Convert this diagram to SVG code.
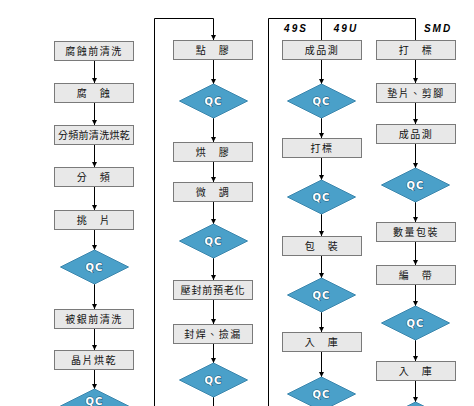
<svg xmlns="http://www.w3.org/2000/svg" width="474" height="406" viewBox="0 0 474 406">
<style>
.bx rect{fill:#e8e8e8;stroke:#7a7a7a;stroke-width:1}
.bx text{font-family:"Noto Sans CJK TC","Noto Sans CJK SC",sans-serif;font-size:10px;fill:#111;text-anchor:middle;letter-spacing:1.5px}
.qc polygon{fill:#4aa0c9;stroke:#3a86ad;stroke-width:1}
.qc text{font-family:"DejaVu Sans","Liberation Sans",sans-serif;font-weight:bold;font-size:10px;fill:#fff;stroke:#1f5f80;stroke-width:1.2px;paint-order:stroke;text-anchor:middle;letter-spacing:1px}
.ln{stroke:#000;stroke-width:1;fill:none}
.ar{stroke:#000;stroke-width:1;fill:none;marker-end:url(#ah)}
.hd{font-family:"Liberation Sans",Arial,sans-serif;font-weight:bold;font-style:italic;font-size:10px;fill:#000;text-anchor:middle;letter-spacing:2px}
</style>
<defs>
<marker id="ah" markerWidth="6" markerHeight="6" refX="5" refY="3" orient="auto" markerUnits="userSpaceOnUse">
<path d="M0,0.5 L5,3 L0,5.5 Z" fill="#000"/>
</marker>
</defs>
<rect width="474" height="406" fill="#fff"/>
<g id="connectors">
<path class="ln" d="M154.5,406 V18.5 H213.5"/>
<path class="ar" d="M213.5,18.5 V40"/>
<path class="ln" d="M268.5,406 V18.5 H415.5 V40"/>
<path class="ln" d="M321.5,18.5 V40"/>
<path class="ar" d="M94.5,61 V83"/>
<path class="ar" d="M94.5,103 V125"/>
<path class="ar" d="M94.5,145 V167"/>
<path class="ar" d="M94.5,187 V210"/>
<path class="ar" d="M94.5,230 V250"/>
<path class="ar" d="M94.5,284 V309"/>
<path class="ar" d="M94.5,329 V350"/>
<path class="ar" d="M94.5,370 V389"/>
<path class="ar" d="M213.5,60 V84"/>
<path class="ar" d="M213.5,118 V142"/>
<path class="ar" d="M213.5,162 V182"/>
<path class="ar" d="M213.5,202 V224"/>
<path class="ar" d="M213.5,258 V280"/>
<path class="ar" d="M213.5,300 V324"/>
<path class="ar" d="M213.5,344 V363"/>
<path class="ln" d="M213.5,397 V406"/>
<path class="ar" d="M321.5,60 V84"/>
<path class="ar" d="M321.5,118 V138"/>
<path class="ar" d="M321.5,158 V180"/>
<path class="ar" d="M321.5,214 V236"/>
<path class="ar" d="M321.5,256 V278"/>
<path class="ar" d="M321.5,312 V332"/>
<path class="ar" d="M321.5,352 V377"/>
<path class="ar" d="M415.5,60 V83"/>
<path class="ar" d="M415.5,103 V124"/>
<path class="ar" d="M415.5,144 V168"/>
<path class="ar" d="M415.5,202 V222"/>
<path class="ar" d="M415.5,242 V265"/>
<path class="ar" d="M415.5,285 V306"/>
<path class="ar" d="M415.5,340 V361"/>
<path class="ar" d="M415.5,381 V402"/>
</g>
<g id="headers">
<text class="hd" x="296" y="32">49S</text>
<text class="hd" x="346" y="32">49U</text>
<text class="hd" x="438" y="32">SMD</text>
</g>
<g id="c1n1" class="bx"><rect x="54.5" y="41.5" width="79" height="19"/><text x="94" y="55">腐蝕前清洗</text></g>
<g id="c1n2" class="bx"><rect x="54.5" y="83.5" width="79" height="19"/><text x="94" y="97">腐　蝕</text></g>
<g id="c1n3" class="bx"><rect x="54.5" y="125.5" width="79" height="19"/><text x="94" y="139" style="letter-spacing:0.3px">分頻前清洗烘乾</text></g>
<g id="c1n4" class="bx"><rect x="54.5" y="167.5" width="79" height="19"/><text x="94" y="181">分　頻</text></g>
<g id="c1n5" class="bx"><rect x="54.5" y="210.5" width="79" height="19"/><text x="94" y="224">挑　片</text></g>
<g id="c1qc1" class="qc"><polygon points="94.5,250 128.5,267 94.5,284 60.5,267"/><text x="94.5" y="271">QC</text></g>
<g id="c1n6" class="bx"><rect x="54.5" y="309.5" width="79" height="19"/><text x="94" y="323">被銀前清洗</text></g>
<g id="c1n7" class="bx"><rect x="54.5" y="350.5" width="79" height="19"/><text x="94" y="364">晶片烘乾</text></g>
<g id="c1qc2" class="qc"><polygon points="94.5,389 128.5,406 94.5,423 60.5,406"/><text x="94.5" y="405">QC</text></g>
<g id="c2n1" class="bx"><rect x="173.5" y="40.5" width="79" height="19"/><text x="213" y="54">點　膠</text></g>
<g id="c2qc1" class="qc"><polygon points="213.5,84 247.5,101 213.5,118 179.5,101"/><text x="213.5" y="105">QC</text></g>
<g id="c2n2" class="bx"><rect x="173.5" y="142.5" width="79" height="19"/><text x="213" y="156">烘　膠</text></g>
<g id="c2n3" class="bx"><rect x="173.5" y="182.5" width="79" height="19"/><text x="213" y="196">微　調</text></g>
<g id="c2qc2" class="qc"><polygon points="213.5,224 247.5,241 213.5,258 179.5,241"/><text x="213.5" y="245">QC</text></g>
<g id="c2n4" class="bx"><rect x="173.5" y="280.5" width="79" height="19"/><text x="213" y="294" style="letter-spacing:0.8px">壓封前預老化</text></g>
<g id="c2n5" class="bx"><rect x="173.5" y="324.5" width="79" height="19"/><text x="213" y="338">封焊、撿漏</text></g>
<g id="c2qc3" class="qc"><polygon points="213.5,363 247.5,380 213.5,397 179.5,380"/><text x="213.5" y="384">QC</text></g>
<g id="c3n1" class="bx"><rect x="282.5" y="40.5" width="79" height="19"/><text x="322" y="54">成品測</text></g>
<g id="c3qc1" class="qc"><polygon points="321.5,84 355.5,101 321.5,118 287.5,101"/><text x="321.5" y="105">QC</text></g>
<g id="c3n2" class="bx"><rect x="282.5" y="138.5" width="79" height="19"/><text x="322" y="152">打標</text></g>
<g id="c3qc2" class="qc"><polygon points="321.5,180 355.5,197 321.5,214 287.5,197"/><text x="321.5" y="201">QC</text></g>
<g id="c3n3" class="bx"><rect x="282.5" y="236.5" width="79" height="19"/><text x="322" y="250">包　裝</text></g>
<g id="c3qc3" class="qc"><polygon points="321.5,278 355.5,295 321.5,312 287.5,295"/><text x="321.5" y="299">QC</text></g>
<g id="c3n4" class="bx"><rect x="282.5" y="332.5" width="79" height="19"/><text x="322" y="346">入　庫</text></g>
<g id="c3qc4" class="qc"><polygon points="321.5,377 355.5,394 321.5,411 287.5,394"/><text x="321.5" y="398">QC</text></g>
<g id="c4n1" class="bx"><rect x="376.5" y="40.5" width="79" height="19"/><text x="416" y="54">打　標</text></g>
<g id="c4n2" class="bx"><rect x="376.5" y="83.5" width="79" height="19"/><text x="416" y="97">墊片、剪腳</text></g>
<g id="c4n3" class="bx"><rect x="376.5" y="124.5" width="79" height="19"/><text x="416" y="138">成品測</text></g>
<g id="c4qc1" class="qc"><polygon points="415.5,168 449.5,185 415.5,202 381.5,185"/><text x="415.5" y="189">QC</text></g>
<g id="c4n4" class="bx"><rect x="376.5" y="222.5" width="79" height="19"/><text x="416" y="236">數量包裝</text></g>
<g id="c4n5" class="bx"><rect x="376.5" y="265.5" width="79" height="19"/><text x="416" y="279">編　帶</text></g>
<g id="c4qc2" class="qc"><polygon points="415.5,306 449.5,323 415.5,340 381.5,323"/><text x="415.5" y="327">QC</text></g>
<g id="c4n6" class="bx"><rect x="376.5" y="361.5" width="79" height="19"/><text x="416" y="375">入　庫</text></g>
<g id="c4qc3" class="qc"><polygon points="415.5,402 449.5,419 415.5,436 381.5,419"/></g>
</svg>
